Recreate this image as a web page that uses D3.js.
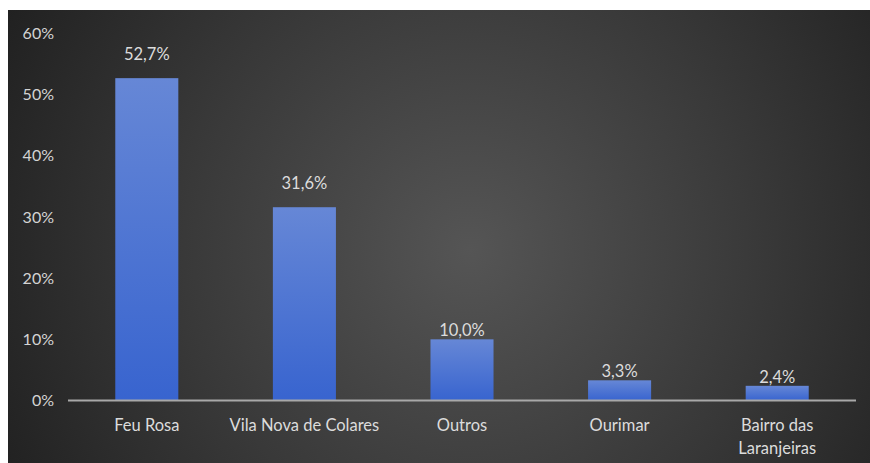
<!DOCTYPE html>
<html>
<head>
<meta charset="utf-8">
<script src="https://cdn.jsdelivr.net/npm/d3@7"></script>
<style>
  html, body { margin: 0; padding: 0; background: #ffffff; }
  svg { display: block; }
</style>
</head>
<body>
<svg id="chart" width="870" height="463"></svg>
<script>
// Share of respondents by neighbourhood
const categories = ["Feu Rosa", "Vila Nova de Colares", "Outros", "Ourimar", "Bairro das\nLaranjeiras"];
const values = [52.7, 31.6, 10.0, 3.3, 2.4];
const valueLabels = ["52,7%", "31,6%", "10,0%", "3,3%", "2,4%"];
const yTicks = [0, 10, 20, 30, 40, 50, 60];

const svg = d3.select("#chart");
const W = 870, H = 463;
const panel = { x: 8, y: 10, w: W - 8, h: H - 10 };
const plot = { left: 68, right: 856, top: 33.5, bottom: 400.5 };
const font = "Lato, 'Open Sans', sans-serif";

// Dark backdrop with a soft radial highlight
const defs = svg.append("defs");
const bg = defs.append("radialGradient").attr("id", "bgGrad")
  .attr("gradientUnits", "userSpaceOnUse")
  .attr("cx", 470).attr("cy", 250).attr("r", 520);
bg.append("stop").attr("offset", "0%").attr("stop-color", "#555555");
bg.append("stop").attr("offset", "55%").attr("stop-color", "#393939");
bg.append("stop").attr("offset", "100%").attr("stop-color", "#212121");

const barGrad = defs.append("linearGradient").attr("id", "barGrad")
  .attr("x1", 0).attr("y1", 0).attr("x2", 0).attr("y2", 1);
barGrad.append("stop").attr("offset", "0%").attr("stop-color", "#6687d6");
barGrad.append("stop").attr("offset", "100%").attr("stop-color", "#3864cf");

svg.append("rect")
  .attr("x", panel.x).attr("y", panel.y)
  .attr("width", panel.w).attr("height", panel.h)
  .attr("fill", "url(#bgGrad)");

const x = d3.scaleBand()
  .domain(categories)
  .range([plot.left, plot.right])
  .paddingInner(0.6)
  .paddingOuter(0.3);

const y = d3.scaleLinear()
  .domain([0, 60])
  .range([plot.bottom, plot.top]);

// Y axis labels (no line, no ticks)
const yAxis = d3.axisLeft(y)
  .tickValues(yTicks)
  .tickFormat(d => d + "%")
  .tickSize(0)
  .tickPadding(0);
const yg = svg.append("g").attr("transform", "translate(54,0)").call(yAxis);
yg.select(".domain").remove();
yg.selectAll("text")
  .attr("fill", "#d4d4d4")
  .style("font-family", font)
  .style("font-size", "16px");

// Bars
svg.append("g").selectAll("rect")
  .data(values)
  .join("rect")
  .attr("x", (d, i) => x(categories[i]))
  .attr("y", d => y(d))
  .attr("width", x.bandwidth())
  .attr("height", d => y(0) - y(d))
  .attr("fill", "url(#barGrad)");

// Baseline
svg.append("line")
  .attr("x1", plot.left).attr("x2", plot.right)
  .attr("y1", y(0)).attr("y2", y(0))
  .attr("stroke", "#a8a8a8").attr("stroke-width", 2);

// Value labels above bars
svg.append("g").selectAll("text")
  .data(values)
  .join("text")
  .attr("x", (d, i) => x(categories[i]) + x.bandwidth() / 2)
  .attr("y", d => y(d) - (d >= 20 ? 24 : 9))
  .attr("dy", "0.35em")
  .attr("text-anchor", "middle")
  .attr("fill", "#dcdcdc")
  .style("font-family", font)
  .style("font-size", "16.5px")
  .text((d, i) => valueLabels[i]);

// Category labels (multi-line where needed)
const cat = svg.append("g").selectAll("text")
  .data(categories)
  .join("text")
  .attr("x", d => x(d) + x.bandwidth() / 2)
  .attr("y", 425)
  .attr("text-anchor", "middle")
  .attr("fill", "#dcdcdc")
  .style("font-family", font)
  .style("font-size", "16.5px");
cat.each(function(d) {
  const lines = d.split("\n");
  const t = d3.select(this);
  lines.forEach((ln, k) => {
    t.append("tspan")
      .attr("x", t.attr("x"))
      .attr("dy", k === 0 ? "0.35em" : "1.4em")
      .text(ln);
  });
});
</script>
</body>
</html>
